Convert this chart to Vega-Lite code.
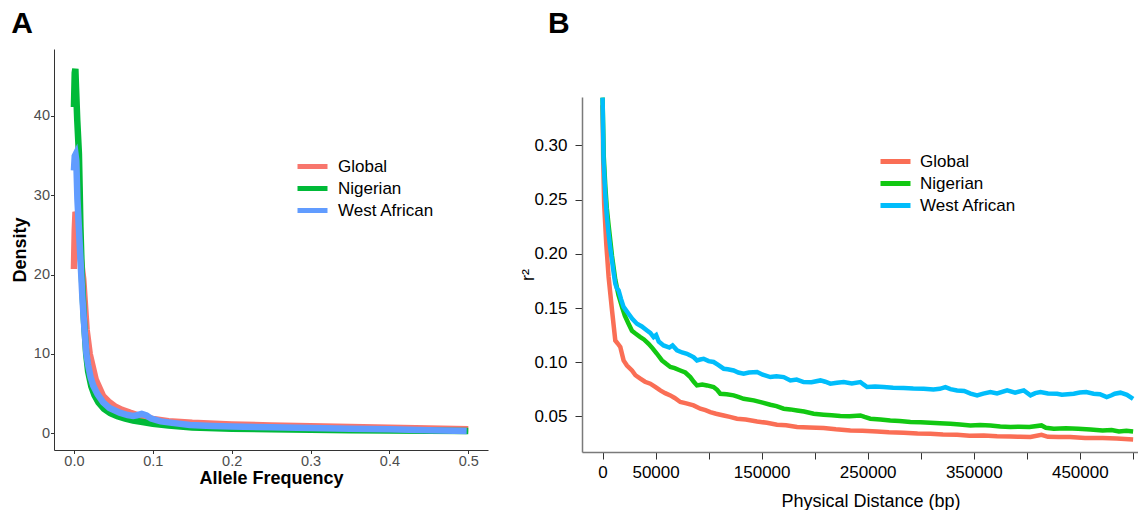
{
  "$schema": "https://vega.github.io/schema/vega-lite/v6.json",
  "padding": {"left": 11, "top": 9, "right": 0, "bottom": 0},
  "spacing": 31,
  "config": {
    "view": {"stroke": null},
    "font": "Liberation Sans",
    "axis": {"grid": false}
  },
  "datasets": {
    "af": [
      {"series": "Global", "af": 0, "density": 20.7},
      {"series": "Global", "af": 0.001, "density": 25.5},
      {"series": "Global", "af": 0.002, "density": 27.9},
      {"series": "Global", "af": 0.003, "density": 27.6},
      {"series": "Global", "af": 0.005, "density": 25.5},
      {"series": "Global", "af": 0.008, "density": 22.5},
      {"series": "Global", "af": 0.0118, "density": 19.4},
      {"series": "Global", "af": 0.016, "density": 13.1},
      {"series": "Global", "af": 0.02, "density": 10},
      {"series": "Global", "af": 0.0275, "density": 6.8},
      {"series": "Global", "af": 0.037, "density": 4.7},
      {"series": "Global", "af": 0.044, "density": 4.0},
      {"series": "Global", "af": 0.052, "density": 3.4},
      {"series": "Global", "af": 0.061, "density": 2.95},
      {"series": "Global", "af": 0.071, "density": 2.6},
      {"series": "Global", "af": 0.085, "density": 2.15},
      {"series": "Global", "af": 0.1, "density": 1.8},
      {"series": "Global", "af": 0.12, "density": 1.52},
      {"series": "Global", "af": 0.15, "density": 1.32},
      {"series": "Global", "af": 0.2, "density": 1.12},
      {"series": "Global", "af": 0.25, "density": 1.0},
      {"series": "Global", "af": 0.3, "density": 0.9},
      {"series": "Global", "af": 0.35, "density": 0.8},
      {"series": "Global", "af": 0.4, "density": 0.7},
      {"series": "Global", "af": 0.45, "density": 0.6},
      {"series": "Global", "af": 0.5, "density": 0.5},
      {"series": "Nigerian", "af": 0, "density": 41.1},
      {"series": "Nigerian", "af": 0.001, "density": 45.4},
      {"series": "Nigerian", "af": 0.0018, "density": 45.9},
      {"series": "Nigerian", "af": 0.0026, "density": 43.6},
      {"series": "Nigerian", "af": 0.0042, "density": 39.4},
      {"series": "Nigerian", "af": 0.0063, "density": 35.2},
      {"series": "Nigerian", "af": 0.0072, "density": 31},
      {"series": "Nigerian", "af": 0.0082, "density": 26},
      {"series": "Nigerian", "af": 0.0100, "density": 20},
      {"series": "Nigerian", "af": 0.0125, "density": 14.5},
      {"series": "Nigerian", "af": 0.0155, "density": 10},
      {"series": "Nigerian", "af": 0.018, "density": 7.8},
      {"series": "Nigerian", "af": 0.022, "density": 5.9},
      {"series": "Nigerian", "af": 0.026, "density": 4.8},
      {"series": "Nigerian", "af": 0.031, "density": 3.9},
      {"series": "Nigerian", "af": 0.038, "density": 3.1},
      {"series": "Nigerian", "af": 0.046, "density": 2.55},
      {"series": "Nigerian", "af": 0.055, "density": 2.15},
      {"series": "Nigerian", "af": 0.065, "density": 1.85},
      {"series": "Nigerian", "af": 0.075, "density": 1.62},
      {"series": "Nigerian", "af": 0.085, "density": 1.45},
      {"series": "Nigerian", "af": 0.1, "density": 1.2},
      {"series": "Nigerian", "af": 0.12, "density": 0.97},
      {"series": "Nigerian", "af": 0.15, "density": 0.74},
      {"series": "Nigerian", "af": 0.2, "density": 0.58},
      {"series": "Nigerian", "af": 0.25, "density": 0.5},
      {"series": "Nigerian", "af": 0.3, "density": 0.44},
      {"series": "Nigerian", "af": 0.35, "density": 0.4},
      {"series": "Nigerian", "af": 0.4, "density": 0.36},
      {"series": "Nigerian", "af": 0.45, "density": 0.33},
      {"series": "Nigerian", "af": 0.5, "density": 0.3},
      {"series": "West African", "af": 0, "density": 33.1},
      {"series": "West African", "af": 0.001, "density": 34.9},
      {"series": "West African", "af": 0.002, "density": 35.1},
      {"series": "West African", "af": 0.003, "density": 34.3},
      {"series": "West African", "af": 0.0044, "density": 29.5},
      {"series": "West African", "af": 0.0076, "density": 23.2},
      {"series": "West African", "af": 0.0108, "density": 16.9},
      {"series": "West African", "af": 0.0133, "density": 13.1},
      {"series": "West African", "af": 0.0158, "density": 10},
      {"series": "West African", "af": 0.018, "density": 8.6},
      {"series": "West African", "af": 0.021, "density": 7.1},
      {"series": "West African", "af": 0.0245, "density": 6.0},
      {"series": "West African", "af": 0.03, "density": 4.9},
      {"series": "West African", "af": 0.037, "density": 3.9},
      {"series": "West African", "af": 0.045, "density": 3.2},
      {"series": "West African", "af": 0.058, "density": 2.6},
      {"series": "West African", "af": 0.068, "density": 2.3},
      {"series": "West African", "af": 0.075, "density": 2.2},
      {"series": "West African", "af": 0.08, "density": 2.28},
      {"series": "West African", "af": 0.086, "density": 2.45},
      {"series": "West African", "af": 0.092, "density": 2.25},
      {"series": "West African", "af": 0.098, "density": 1.85},
      {"series": "West African", "af": 0.11, "density": 1.5},
      {"series": "West African", "af": 0.122, "density": 1.35},
      {"series": "West African", "af": 0.147, "density": 1.05},
      {"series": "West African", "af": 0.175, "density": 0.93},
      {"series": "West African", "af": 0.2, "density": 0.86},
      {"series": "West African", "af": 0.25, "density": 0.76},
      {"series": "West African", "af": 0.3, "density": 0.67},
      {"series": "West African", "af": 0.35, "density": 0.58},
      {"series": "West African", "af": 0.4, "density": 0.5},
      {"series": "West African", "af": 0.45, "density": 0.4},
      {"series": "West African", "af": 0.498, "density": 0.3}
    ],
    "ld": [
      {"series": "Global", "dist": 0, "r2": 0.337},
      {"series": "Global", "dist": 600, "r2": 0.286},
      {"series": "Global", "dist": 1500, "r2": 0.246},
      {"series": "Global", "dist": 3500, "r2": 0.209},
      {"series": "Global", "dist": 5700, "r2": 0.1786},
      {"series": "Global", "dist": 8900, "r2": 0.148},
      {"series": "Global", "dist": 12000, "r2": 0.12},
      {"series": "Global", "dist": 14500, "r2": 0.117},
      {"series": "Global", "dist": 16700, "r2": 0.114},
      {"series": "Global", "dist": 19800, "r2": 0.1017},
      {"series": "Global", "dist": 23000, "r2": 0.097},
      {"series": "Global", "dist": 27700, "r2": 0.0924},
      {"series": "Global", "dist": 31000, "r2": 0.088},
      {"series": "Global", "dist": 35600, "r2": 0.0848},
      {"series": "Global", "dist": 40000, "r2": 0.082},
      {"series": "Global", "dist": 45000, "r2": 0.0802},
      {"series": "Global", "dist": 50000, "r2": 0.077},
      {"series": "Global", "dist": 54400, "r2": 0.074},
      {"series": "Global", "dist": 59000, "r2": 0.0715},
      {"series": "Global", "dist": 63900, "r2": 0.0694},
      {"series": "Global", "dist": 68000, "r2": 0.067},
      {"series": "Global", "dist": 73300, "r2": 0.0633},
      {"series": "Global", "dist": 79000, "r2": 0.062},
      {"series": "Global", "dist": 85800, "r2": 0.0602},
      {"series": "Global", "dist": 92200, "r2": 0.0571},
      {"series": "Global", "dist": 97000, "r2": 0.0558},
      {"series": "Global", "dist": 101600, "r2": 0.054},
      {"series": "Global", "dist": 107000, "r2": 0.0525},
      {"series": "Global", "dist": 114200, "r2": 0.0509},
      {"series": "Global", "dist": 120000, "r2": 0.0496},
      {"series": "Global", "dist": 126800, "r2": 0.0479},
      {"series": "Global", "dist": 135000, "r2": 0.0472},
      {"series": "Global", "dist": 145700, "r2": 0.0454},
      {"series": "Global", "dist": 155000, "r2": 0.0441},
      {"series": "Global", "dist": 164500, "r2": 0.0423},
      {"series": "Global", "dist": 173000, "r2": 0.0418},
      {"series": "Global", "dist": 183400, "r2": 0.0402},
      {"series": "Global", "dist": 195000, "r2": 0.0398},
      {"series": "Global", "dist": 208500, "r2": 0.0393},
      {"series": "Global", "dist": 220000, "r2": 0.0381},
      {"series": "Global", "dist": 233700, "r2": 0.0371},
      {"series": "Global", "dist": 245000, "r2": 0.0368},
      {"series": "Global", "dist": 258900, "r2": 0.0362},
      {"series": "Global", "dist": 270000, "r2": 0.0355},
      {"series": "Global", "dist": 284000, "r2": 0.035},
      {"series": "Global", "dist": 297000, "r2": 0.0342},
      {"series": "Global", "dist": 309100, "r2": 0.034},
      {"series": "Global", "dist": 321000, "r2": 0.0333},
      {"series": "Global", "dist": 334300, "r2": 0.0331},
      {"series": "Global", "dist": 346000, "r2": 0.0322},
      {"series": "Global", "dist": 359400, "r2": 0.0325},
      {"series": "Global", "dist": 372000, "r2": 0.0318},
      {"series": "Global", "dist": 384600, "r2": 0.0316},
      {"series": "Global", "dist": 394000, "r2": 0.0312},
      {"series": "Global", "dist": 403500, "r2": 0.031},
      {"series": "Global", "dist": 413900, "r2": 0.0331},
      {"series": "Global", "dist": 420000, "r2": 0.0312},
      {"series": "Global", "dist": 430000, "r2": 0.031},
      {"series": "Global", "dist": 440900, "r2": 0.031},
      {"series": "Global", "dist": 455000, "r2": 0.0302},
      {"series": "Global", "dist": 471500, "r2": 0.03},
      {"series": "Global", "dist": 485000, "r2": 0.0296},
      {"series": "Global", "dist": 500300, "r2": 0.0288},
      {"series": "Nigerian", "dist": 0, "r2": 0.344},
      {"series": "Nigerian", "dist": 1000, "r2": 0.292},
      {"series": "Nigerian", "dist": 2600, "r2": 0.262},
      {"series": "Nigerian", "dist": 4000, "r2": 0.242},
      {"series": "Nigerian", "dist": 5700, "r2": 0.226},
      {"series": "Nigerian", "dist": 8900, "r2": 0.198},
      {"series": "Nigerian", "dist": 12000, "r2": 0.176},
      {"series": "Nigerian", "dist": 15000, "r2": 0.162},
      {"series": "Nigerian", "dist": 18300, "r2": 0.151},
      {"series": "Nigerian", "dist": 21000, "r2": 0.143},
      {"series": "Nigerian", "dist": 24500, "r2": 0.1355},
      {"series": "Nigerian", "dist": 27700, "r2": 0.129},
      {"series": "Nigerian", "dist": 31000, "r2": 0.1265},
      {"series": "Nigerian", "dist": 35600, "r2": 0.1232},
      {"series": "Nigerian", "dist": 39000, "r2": 0.121},
      {"series": "Nigerian", "dist": 43400, "r2": 0.117},
      {"series": "Nigerian", "dist": 47000, "r2": 0.113},
      {"series": "Nigerian", "dist": 51300, "r2": 0.1078},
      {"series": "Nigerian", "dist": 56000, "r2": 0.1017},
      {"series": "Nigerian", "dist": 60000, "r2": 0.0985},
      {"series": "Nigerian", "dist": 63900, "r2": 0.0956},
      {"series": "Nigerian", "dist": 68000, "r2": 0.0945},
      {"series": "Nigerian", "dist": 73300, "r2": 0.0924},
      {"series": "Nigerian", "dist": 78000, "r2": 0.0905},
      {"series": "Nigerian", "dist": 82700, "r2": 0.0863},
      {"series": "Nigerian", "dist": 86000, "r2": 0.082},
      {"series": "Nigerian", "dist": 89000, "r2": 0.0786},
      {"series": "Nigerian", "dist": 94000, "r2": 0.0795},
      {"series": "Nigerian", "dist": 98500, "r2": 0.0786},
      {"series": "Nigerian", "dist": 104700, "r2": 0.0771},
      {"series": "Nigerian", "dist": 108000, "r2": 0.0745},
      {"series": "Nigerian", "dist": 111000, "r2": 0.0709},
      {"series": "Nigerian", "dist": 117000, "r2": 0.0705},
      {"series": "Nigerian", "dist": 123600, "r2": 0.0694},
      {"series": "Nigerian", "dist": 128000, "r2": 0.068},
      {"series": "Nigerian", "dist": 133000, "r2": 0.0663},
      {"series": "Nigerian", "dist": 142500, "r2": 0.0648},
      {"series": "Nigerian", "dist": 150000, "r2": 0.063},
      {"series": "Nigerian", "dist": 158200, "r2": 0.0608},
      {"series": "Nigerian", "dist": 164000, "r2": 0.0595},
      {"series": "Nigerian", "dist": 170800, "r2": 0.0571},
      {"series": "Nigerian", "dist": 177000, "r2": 0.0565},
      {"series": "Nigerian", "dist": 183400, "r2": 0.0555},
      {"series": "Nigerian", "dist": 190000, "r2": 0.0545},
      {"series": "Nigerian", "dist": 199100, "r2": 0.0525},
      {"series": "Nigerian", "dist": 208500, "r2": 0.0516},
      {"series": "Nigerian", "dist": 216000, "r2": 0.051},
      {"series": "Nigerian", "dist": 224200, "r2": 0.0504},
      {"series": "Nigerian", "dist": 233000, "r2": 0.0502},
      {"series": "Nigerian", "dist": 243100, "r2": 0.0509},
      {"series": "Nigerian", "dist": 247000, "r2": 0.0495},
      {"series": "Nigerian", "dist": 252500, "r2": 0.0479},
      {"series": "Nigerian", "dist": 262000, "r2": 0.0472},
      {"series": "Nigerian", "dist": 271300, "r2": 0.0463},
      {"series": "Nigerian", "dist": 280000, "r2": 0.0458},
      {"series": "Nigerian", "dist": 290300, "r2": 0.0448},
      {"series": "Nigerian", "dist": 300000, "r2": 0.0447},
      {"series": "Nigerian", "dist": 309100, "r2": 0.0442},
      {"series": "Nigerian", "dist": 318000, "r2": 0.0437},
      {"series": "Nigerian", "dist": 328000, "r2": 0.0433},
      {"series": "Nigerian", "dist": 337000, "r2": 0.0425},
      {"series": "Nigerian", "dist": 346900, "r2": 0.0417},
      {"series": "Nigerian", "dist": 356000, "r2": 0.042},
      {"series": "Nigerian", "dist": 365700, "r2": 0.0417},
      {"series": "Nigerian", "dist": 375000, "r2": 0.0408},
      {"series": "Nigerian", "dist": 384600, "r2": 0.0402},
      {"series": "Nigerian", "dist": 393000, "r2": 0.0405},
      {"series": "Nigerian", "dist": 402500, "r2": 0.0402},
      {"series": "Nigerian", "dist": 413900, "r2": 0.0417},
      {"series": "Nigerian", "dist": 418000, "r2": 0.0395},
      {"series": "Nigerian", "dist": 425500, "r2": 0.0387},
      {"series": "Nigerian", "dist": 437000, "r2": 0.039},
      {"series": "Nigerian", "dist": 448500, "r2": 0.0387},
      {"series": "Nigerian", "dist": 460000, "r2": 0.038},
      {"series": "Nigerian", "dist": 471500, "r2": 0.0371},
      {"series": "Nigerian", "dist": 480000, "r2": 0.0375},
      {"series": "Nigerian", "dist": 486900, "r2": 0.0362},
      {"series": "Nigerian", "dist": 494000, "r2": 0.0368},
      {"series": "Nigerian", "dist": 500300, "r2": 0.0362},
      {"series": "West African", "dist": 0, "r2": 0.344},
      {"series": "West African", "dist": 950, "r2": 0.286},
      {"series": "West African", "dist": 2550, "r2": 0.2554},
      {"series": "West African", "dist": 4000, "r2": 0.235},
      {"series": "West African", "dist": 5700, "r2": 0.2185},
      {"series": "West African", "dist": 7300, "r2": 0.205},
      {"series": "West African", "dist": 8850, "r2": 0.194},
      {"series": "West African", "dist": 10500, "r2": 0.182},
      {"series": "West African", "dist": 12000, "r2": 0.1724},
      {"series": "West African", "dist": 13500, "r2": 0.168},
      {"series": "West African", "dist": 15100, "r2": 0.1662},
      {"series": "West African", "dist": 17500, "r2": 0.158},
      {"series": "West African", "dist": 19800, "r2": 0.151},
      {"series": "West African", "dist": 22000, "r2": 0.148},
      {"series": "West African", "dist": 24500, "r2": 0.1447},
      {"series": "West African", "dist": 28000, "r2": 0.14},
      {"series": "West African", "dist": 32400, "r2": 0.1355},
      {"series": "West African", "dist": 37000, "r2": 0.133},
      {"series": "West African", "dist": 41900, "r2": 0.1293},
      {"series": "West African", "dist": 45000, "r2": 0.127},
      {"series": "West African", "dist": 48100, "r2": 0.1232},
      {"series": "West African", "dist": 50500, "r2": 0.125},
      {"series": "West African", "dist": 53000, "r2": 0.119},
      {"series": "West African", "dist": 57500, "r2": 0.1155},
      {"series": "West African", "dist": 63000, "r2": 0.1135},
      {"series": "West African", "dist": 66000, "r2": 0.1155},
      {"series": "West African", "dist": 70200, "r2": 0.111},
      {"series": "West African", "dist": 75000, "r2": 0.109},
      {"series": "West African", "dist": 79600, "r2": 0.1078},
      {"series": "West African", "dist": 82700, "r2": 0.1063},
      {"series": "West African", "dist": 86000, "r2": 0.1045},
      {"series": "West African", "dist": 89000, "r2": 0.1017},
      {"series": "West African", "dist": 92000, "r2": 0.1025},
      {"series": "West African", "dist": 95300, "r2": 0.1032},
      {"series": "West African", "dist": 100000, "r2": 0.101},
      {"series": "West African", "dist": 104700, "r2": 0.1002},
      {"series": "West African", "dist": 109000, "r2": 0.0975},
      {"series": "West African", "dist": 114200, "r2": 0.094},
      {"series": "West African", "dist": 118000, "r2": 0.0935},
      {"series": "West African", "dist": 123600, "r2": 0.0924},
      {"series": "West African", "dist": 128000, "r2": 0.0905},
      {"series": "West African", "dist": 133000, "r2": 0.0894},
      {"series": "West African", "dist": 138000, "r2": 0.0905},
      {"series": "West African", "dist": 145700, "r2": 0.091},
      {"series": "West African", "dist": 151000, "r2": 0.0885},
      {"series": "West African", "dist": 158200, "r2": 0.0863},
      {"series": "West African", "dist": 164000, "r2": 0.087},
      {"series": "West African", "dist": 170800, "r2": 0.0863},
      {"series": "West African", "dist": 177100, "r2": 0.0832},
      {"series": "West African", "dist": 183000, "r2": 0.084},
      {"series": "West African", "dist": 189600, "r2": 0.0817},
      {"series": "West African", "dist": 197000, "r2": 0.0815},
      {"series": "West African", "dist": 205400, "r2": 0.0832},
      {"series": "West African", "dist": 210000, "r2": 0.082},
      {"series": "West African", "dist": 214800, "r2": 0.0802},
      {"series": "West African", "dist": 221000, "r2": 0.081},
      {"series": "West African", "dist": 227400, "r2": 0.0817},
      {"series": "West African", "dist": 235000, "r2": 0.0805},
      {"series": "West African", "dist": 243100, "r2": 0.0817},
      {"series": "West African", "dist": 246000, "r2": 0.0795},
      {"series": "West African", "dist": 249400, "r2": 0.0771},
      {"series": "West African", "dist": 257000, "r2": 0.0775},
      {"series": "West African", "dist": 265100, "r2": 0.0771},
      {"series": "West African", "dist": 274000, "r2": 0.0765},
      {"series": "West African", "dist": 284000, "r2": 0.0762},
      {"series": "West African", "dist": 293000, "r2": 0.0758},
      {"series": "West African", "dist": 302800, "r2": 0.0756},
      {"series": "West African", "dist": 312000, "r2": 0.0748},
      {"series": "West African", "dist": 318000, "r2": 0.0755},
      {"series": "West African", "dist": 323300, "r2": 0.0771},
      {"series": "West African", "dist": 328000, "r2": 0.0752},
      {"series": "West African", "dist": 334300, "r2": 0.074},
      {"series": "West African", "dist": 341000, "r2": 0.0735},
      {"series": "West African", "dist": 347000, "r2": 0.071},
      {"series": "West African", "dist": 353200, "r2": 0.0694},
      {"series": "West African", "dist": 359000, "r2": 0.071},
      {"series": "West African", "dist": 365700, "r2": 0.0725},
      {"series": "West African", "dist": 372000, "r2": 0.0712},
      {"series": "West African", "dist": 381500, "r2": 0.074},
      {"series": "West African", "dist": 389000, "r2": 0.072},
      {"series": "West African", "dist": 397200, "r2": 0.074},
      {"series": "West African", "dist": 403500, "r2": 0.0694},
      {"series": "West African", "dist": 408000, "r2": 0.0715},
      {"series": "West African", "dist": 412900, "r2": 0.0725},
      {"series": "West African", "dist": 420000, "r2": 0.0712},
      {"series": "West African", "dist": 428700, "r2": 0.0709},
      {"series": "West African", "dist": 433100, "r2": 0.07},
      {"series": "West African", "dist": 444300, "r2": 0.0709},
      {"series": "West African", "dist": 450000, "r2": 0.072},
      {"series": "West African", "dist": 456100, "r2": 0.0725},
      {"series": "West African", "dist": 463000, "r2": 0.071},
      {"series": "West African", "dist": 469000, "r2": 0.0705},
      {"series": "West African", "dist": 475400, "r2": 0.0679},
      {"series": "West African", "dist": 480000, "r2": 0.0695},
      {"series": "West African", "dist": 483000, "r2": 0.0709},
      {"series": "West African", "dist": 488400, "r2": 0.0719},
      {"series": "West African", "dist": 494500, "r2": 0.07},
      {"series": "West African", "dist": 500300, "r2": 0.0663}
    ]
  },
  "hconcat": [
    {
      "width": 434,
      "height": 401,
      "title": {"text": "A", "anchor": "start", "frame": "bounds", "fontSize": 30, "fontWeight": "bold", "color": "black", "font": "Liberation Sans", "offset": -14, "baseline": "alphabetic"},
      "data": {"name": "af"},
      "mark": {"type": "line", "strokeWidth": 6.5, "clip": true},
      "encoding": {
        "x": {
          "field": "af", "type": "quantitative",
          "scale": {"domain": [-0.0253, 0.525], "nice": false, "zero": false},
          "axis": {"values": [0, 0.1, 0.2, 0.3, 0.4, 0.5], "format": ".1f", "title": "Allele Frequency",
            "domainColor": "#333333", "tickColor": "#333333", "tickSize": 3.5, "labelPadding": 1,
            "labelColor": "#4d4d4d", "labelFontSize": 14.5, "labelFont": "Liberation Sans",
            "titleFontSize": 18, "titleFontWeight": "bold", "titleColor": "black", "titleFont": "Liberation Sans", "titlePadding": 1}
        },
        "y": {
          "field": "density", "type": "quantitative",
          "scale": {"domain": [-2.1, 48.4], "nice": false, "zero": false},
          "axis": {"values": [0, 10, 20, 30, 40], "title": "Density",
            "domainColor": "#333333", "tickColor": "#333333", "tickSize": 3.5, "labelPadding": 1,
            "labelColor": "#4d4d4d", "labelFontSize": 14.5, "labelFont": "Liberation Sans",
            "titleFontSize": 18, "titleFontWeight": "bold", "titleColor": "black", "titleFont": "Liberation Sans", "titlePadding": 4}
        },
        "color": {
          "field": "series", "type": "nominal",
          "scale": {"domain": ["Global", "Nigerian", "West African"], "range": ["#F8766D", "#00BA38", "#619CFF"]},
          "legend": {"orient": "none", "legendX": 250, "legendY": 109, "title": null, "padding": 0,
            "symbolType": "M-3,0H3", "symbolSize": 100, "symbolStrokeWidth": 5,
            "labelFontSize": 17, "labelFont": "Liberation Sans", "labelColor": "black", "labelOffset": 17, "rowPadding": 1,
            "encode": {"symbols": {"update": {"stroke": {"signal": "datum.value === 'Global' ? '#E8432B' : datum.value === 'Nigerian' ? '#1F9A1F' : '#00BFF3'"}}}}}
        }
      }
    },
    {
      "spacing": 10,
      "vconcat": [
        {
          "width": 577,
          "height": 38,
          "title": {"text": "B", "anchor": "start", "frame": "group", "fontSize": 30, "fontWeight": "bold", "color": "black", "font": "Liberation Sans", "offset": -14, "baseline": "alphabetic", "dx": -34},
          "data": {"values": []},
          "mark": "point"
        },
        {
          "width": 577,
          "height": 355,
          "data": {"name": "ld"},
          "mark": {"type": "line", "strokeWidth": 4.5, "clip": true},
          "encoding": {
            "x": {
              "field": "dist", "type": "quantitative",
              "scale": {"domain": [-19400, 524700], "nice": false, "zero": false},
              "axis": {"values": [0, 50000, 100000, 150000, 200000, 250000, 300000, 350000, 400000, 450000, 500000],
                "labelExpr": "indexof([0, 50000, 150000, 250000, 350000, 450000], datum.value) >= 0 ? format(datum.value, 'd') : ''",
                "title": "Physical Distance (bp)",
                "domainColor": "#7a7a7a", "domainWidth": 1.5, "tickColor": "#333333", "tickSize": 7, "labelPadding": 5,
                "labelColor": "black", "labelFontSize": 17, "labelFont": "Liberation Sans",
                "titleFontSize": 18, "titleFontWeight": "normal", "titleColor": "black", "titleFont": "Liberation Sans", "titlePadding": 12}
            },
            "y": {
              "field": "r2", "type": "quantitative",
              "scale": {"domain": [0.0172, 0.3446], "nice": false, "zero": false},
              "axis": {"values": [0.05, 0.1, 0.15, 0.2, 0.25, 0.3], "format": ".2f", "title": "r²",
                "domainColor": "#7a7a7a", "domainWidth": 1.5, "tickColor": "#333333", "tickSize": 7, "labelPadding": 8,
                "labelColor": "black", "labelFontSize": 17, "labelFont": "Liberation Sans",
                "titleFontSize": 18, "titleFontWeight": "normal", "titleColor": "black", "titleFont": "Liberation Sans", "titlePadding": -4}
            },
            "color": {
              "field": "series", "type": "nominal",
              "scale": {"domain": ["Global", "Nigerian", "West African"], "range": ["#FA6E55", "#12C812", "#00BDFB"]},
              "legend": {"orient": "none", "legendX": 305, "legendY": 104, "title": null, "padding": 0,
                "symbolType": "M-3,0H3", "symbolSize": 100, "symbolStrokeWidth": 5,
                "labelFontSize": 17, "labelFont": "Liberation Sans", "labelColor": "black", "labelOffset": 16, "rowPadding": 1,
                "encode": {"symbols": {"update": {"stroke": {"signal": "datum.value === 'Global' ? '#E8432B' : datum.value === 'Nigerian' ? '#1F9A1F' : '#00BFF3'"}}}}}
            }
          }
        }
      ]
    }
  ],
  "resolve": {"scale": {"color": "independent"}, "legend": {"color": "independent"}}
}
